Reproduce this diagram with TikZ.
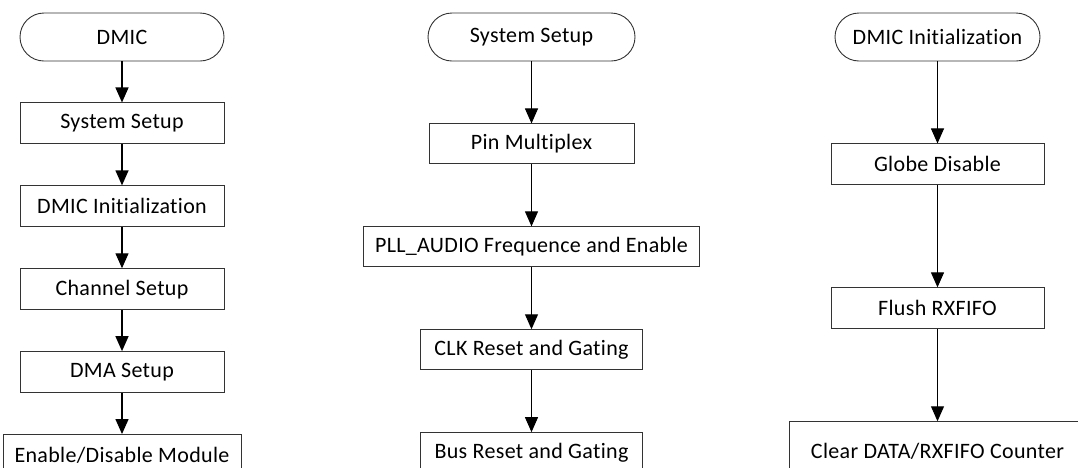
\documentclass[tikz,border=0pt]{standalone}
\usepackage{fontspec}
\setmainfont{Carlito}[Ligatures=NoCommon, LetterSpace=1.5]
\usetikzlibrary{arrows.meta,positioning}

\begin{document}
\begin{tikzpicture}[
  x=1pt, y=-1pt,
  font=\fontsize{22}{24}\selectfont,
  term/.style={draw=black!80, rounded corners=24pt, minimum height=48pt, inner sep=0pt, line width=0.9pt},
  box/.style={draw=black!80, minimum height=41pt, inner sep=0pt, line width=0.9pt},
  arr/.style={-{Triangle[width=13pt,length=15pt]}, line width=1.3pt}
]
\useasboundingbox (0,0) rectangle (1078,467);
\clip (0,0) rectangle (1078,467);

% DMIC main flow
\node[term, minimum width=204pt] (dmic) at (122,37) {DMIC};
\node[box, minimum width=204pt, below=41pt of dmic] (sys) {System Setup};
\node[box, minimum width=204pt, below=41pt of sys] (init) {DMIC Initialization};
\node[box, minimum width=204pt, below=41pt of init] (chan) {Channel Setup};
\node[box, minimum width=204pt, below=41pt of chan] (dma) {DMA Setup};
\node[box, minimum width=238pt, below=41pt of dma] (mod) {Enable/Disable Module};

\draw[arr] (dmic) -- (sys);
\draw[arr] (sys) -- (init);
\draw[arr] (init) -- (chan);
\draw[arr] (chan) -- (dma);
\draw[arr] (dma) -- (mod);

% system setup
\node[term, minimum width=207pt] (sset) at (531.5,37) {System Setup};
\node[box, minimum width=205pt, minimum height=40pt, below=62pt of sset] (pin) {Pin Multiplex};
\node[box, minimum width=336pt, minimum height=40pt, below=62pt of pin] (pll) {PLL\_AUDIO Frequence and Enable};
\node[box, minimum width=222pt, minimum height=40pt, below=62pt of pll] (clk) {CLK Reset and Gating};
\node[box, minimum width=222pt, minimum height=40pt, below=62pt of clk] (bus) {Bus Reset and Gating};

\draw[arr, line width=1pt] (sset) -- (pin);
\draw[arr, line width=1pt] (pin) -- (pll);
\draw[arr, line width=1pt] (pll) -- (clk);
\draw[arr, line width=1pt] (clk) -- (bus);

% DMIC initialization
\node[term, minimum width=205pt] (dinit) at (937.5,37) {DMIC Initialization};
\node[box, minimum width=213pt, below=82pt of dinit] (glob) {Globe Disable};
\node[box, minimum width=213pt, below=102pt of glob] (flush) {Flush RXFIFO};
\node[box, minimum width=296pt, minimum height=60pt, below=92pt of flush] (clr) {Clear DATA/RXFIFO Counter};

\draw[arr, line width=1pt] (dinit) -- (glob);
\draw[arr, line width=1pt] (glob) -- (flush);
\draw[arr, line width=1pt] (flush) -- (clr);
\end{tikzpicture}
\end{document}
